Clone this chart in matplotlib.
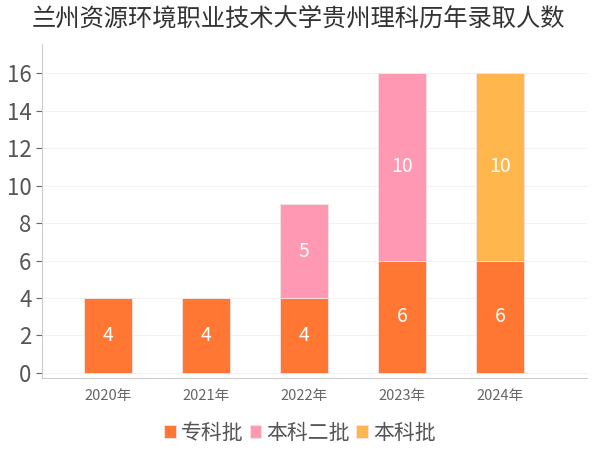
import numpy as np
import matplotlib
matplotlib.use('Agg')
import matplotlib.pyplot as plt

plt.rcParams['font.family'] = ['Noto Sans CJK SC', 'DejaVu Sans']

# data
years = ['2020年', '2021年', '2022年', '2023年', '2024年']
zhuanke = [4, 4, 4, 6, 6]        # 专科批
benke2 = [0, 0, 5, 10, 0]        # 本科二批
benke = [0, 0, 0, 0, 10]         # 本科批
series = [('专科批', zhuanke, '#FF7733'),
          ('本科二批', benke2, '#FF99B3'),
          ('本科批', benke, '#FFB74D')]

fig = plt.figure(figsize=(6, 4.5), dpi=100)
ax = fig.add_axes([0.07, 0.16, 0.908, 0.742])

x = np.arange(len(years))
bottom = np.zeros(len(years))
handles = []
for name, vals, color in series:
    vals = np.array(vals, dtype=float)
    bars = ax.bar(x, vals, width=0.49, bottom=bottom, color=color,
                  edgecolor='#f4e4e4', linewidth=0.6, label=name)
    handles.append(bars)
    for xi, b, v in zip(x, bottom, vals):
        if v > 0:
            ax.text(xi, b + v / 2, '%d' % v, ha='center', va='center',
                    color='white', fontsize=14)
    bottom += vals

ax.set_xlim(-0.67, 4.88)
ax.set_ylim(-0.27, 17.55)
ax.set_yticks(range(0, 17, 2))
ax.set_xticks(x)
ax.set_xticklabels(years)
ax.tick_params(axis='y', labelsize=16, colors='#666666', length=4, width=0.8)
ax.tick_params(axis='x', labelsize=10.5, colors='#666666', length=0, pad=8)
for t in ax.get_yticklabels():
    t.set_color('#555555')
ax.grid(axis='y', color='#f2f2f2', linewidth=0.8)
ax.set_axisbelow(True)
for s in ['top', 'right']:
    ax.spines[s].set_visible(False)
ax.spines['left'].set_color('#cccccc')
ax.spines['bottom'].set_color('#cccccc')

fig.text(0.497, 0.958, '兰州资源环境职业技术大学贵州理科历年录取人数',
         ha='center', va='center', fontsize=17.5, color='#333333')

leg = fig.legend(handles=handles, loc='center', bbox_to_anchor=(0.5, 0.038),
                 ncol=3, frameon=False, fontsize=15, handlelength=0.55,
                 handleheight=0.55, handletextpad=0.25, columnspacing=0.3,
                 labelcolor='#555555')

fig.savefig('out.png', dpi=100)
